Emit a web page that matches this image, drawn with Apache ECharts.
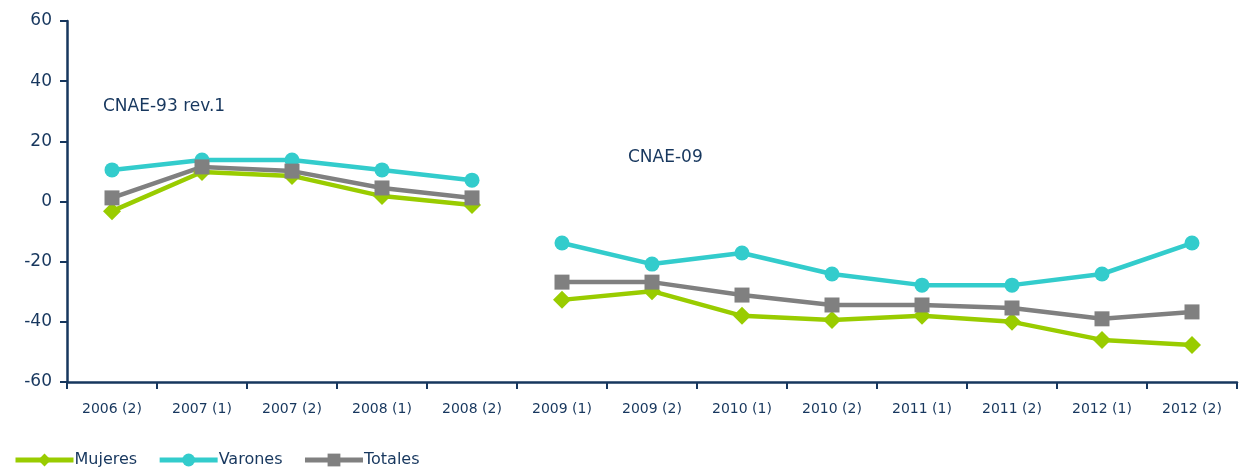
<!DOCTYPE html>
<html>
<head>
<meta charset="utf-8">
<script src="https://cdn.jsdelivr.net/npm/echarts@6/dist/echarts.min.js"></script>
<style>
  html, body { margin: 0; padding: 0; background: #fff; }
  #chart { width: 1240px; height: 471px; }
</style>
</head>
<body>
<div id="chart"></div>
<script>
const categories = ['2006 (2)', '2007 (1)', '2007 (2)', '2008 (1)', '2008 (2)', '2009 (1)', '2009 (2)',
  '2010 (1)', '2010 (2)', '2011 (1)', '2011 (2)', '2012 (1)', '2012 (2)'];

// tramo CNAE-93 rev.1 (5 primeros) y CNAE-09 (8 siguientes)
const mujeres = [-3.2, 9.8, 8.5, 1.8, -1.2, -32.7, -29.8, -38.0, -39.4, -38.0, -40.0, -46.0, -47.7];
const varones = [10.5, 13.8, 13.8, 10.5, 7.1, -13.8, -20.8, -17.1, -24.1, -27.8, -27.8, -24.1, -13.8];
const totales = [1.2, 11.5, 10.1, 4.5, 1.2, -26.8, -26.8, -31.1, -34.4, -34.4, -35.4, -39.0, -36.7];
const splitAt = 5;

const navy = '#17375E';
const font = 'DejaVu Sans';

function part(arr, first) {
  return arr.map((v, i) => (first ? i < splitAt : i >= splitAt) ? v : '-');
}

function makeSeries(name, data, color, symbol, size) {
  return [true, false].map(first => ({
    name: name,
    type: 'line',
    data: part(data, first),
    color: color,
    symbol: symbol,
    symbolSize: size,
    showAllSymbol: true,
    lineStyle: { width: 4.5, color: color },
    itemStyle: { color: color },
    connectNulls: false
  }));
}

const chart = echarts.init(document.getElementById('chart'));
chart.setOption({
  animation: false,
  textStyle: { fontFamily: font, color: navy },
  grid: { left: 67, right: 3, top: 21, bottom: 89 },
  legend: {
    left: 8,
    bottom: -2,
    itemWidth: 58,
    itemHeight: 16,
    itemGap: 20,
    lineStyle: { width: 5 },
    textStyle: { fontFamily: font, fontSize: 16, color: navy, padding: [0, 0, 0, -4] },
    data: ['Mujeres', 'Varones', 'Totales']
  },
  xAxis: {
    type: 'category',
    data: categories,
    boundaryGap: true,
    axisLine: { onZero: false, lineStyle: { color: navy, width: 2.5 } },
    axisTick: { show: true, lineStyle: { color: navy, width: 2 }, length: 7 },
    axisLabel: { fontFamily: font, fontSize: 14, color: navy, margin: 20 }
  },
  yAxis: {
    type: 'value',
    min: -60,
    max: 60,
    interval: 20,
    splitLine: { show: false },
    axisLine: { show: true, lineStyle: { color: navy, width: 2.5 } },
    axisTick: { show: true, lineStyle: { color: navy, width: 2 }, length: 7 },
    axisLabel: { fontFamily: font, fontSize: 17, color: navy, margin: 15 }
  },
  graphic: [
    { type: 'text', left: 103, top: 98, style: { text: 'CNAE-93 rev.1', fontFamily: font, fontSize: 17, fill: navy } },
    { type: 'text', left: 628, top: 149, style: { text: 'CNAE-09', fontFamily: font, fontSize: 17, fill: navy } }
  ],
  series: [
    ...makeSeries('Mujeres', mujeres, '#99CC00', 'diamond', 18),
    ...makeSeries('Varones', varones, '#33CCCC', 'circle', 15),
    ...makeSeries('Totales', totales, '#808080', 'rect', 15)
  ]
});
</script>
</body>
</html>
